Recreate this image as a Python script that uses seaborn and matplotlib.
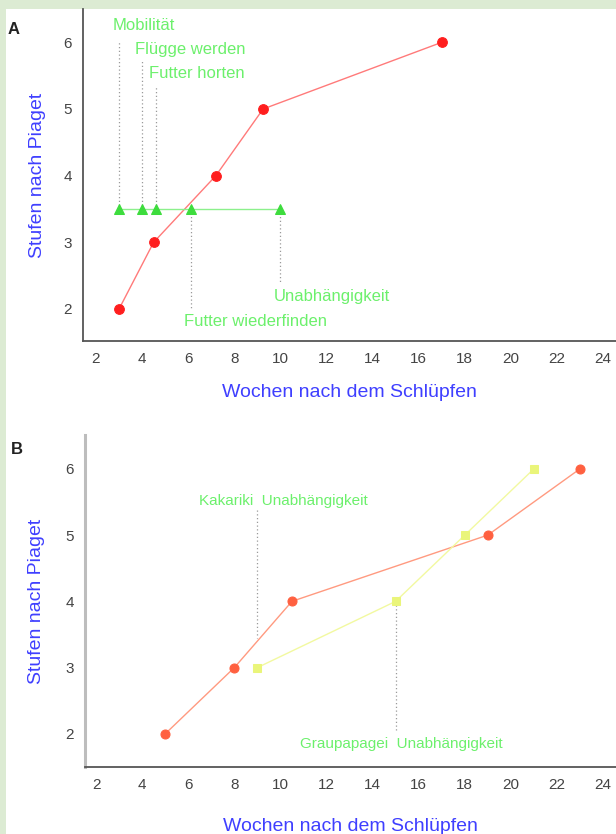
import numpy as np
import pandas as pd
import matplotlib
matplotlib.use("Agg")
import matplotlib.pyplot as plt
import seaborn as sns

# Panel A: Piaget-Stufen (rot) und Entwicklungsereignisse (gruen)
a_weeks = [3, 4.5, 7.2, 9.25, 17]
a_stage = [2, 3, 4, 5, 6]
event_weeks = [3, 4, 4.6, 6.1, 10]
event_labels = ["Mobilität", "Flügge werden", "Futter horten",
                "Futter wiederfinden", "Unabhängigkeit"]
event_level = 3.5

# Panel B: Kakariki (orange) vs. Graupapagei (gelb)
kak_weeks = [5, 8, 10.5, 19, 23]
kak_stage = [2, 3, 4, 5, 6]
grau_weeks = [9, 15, 18, 21]
grau_stage = [3, 4, 5, 6]
indep_weeks = {"Kakariki": 9, "Graupapagei": 15}

xticks = list(range(2, 25, 2))
yticks = [2, 3, 4, 5, 6]

sns.set_style("white")
plt.rcParams["font.family"] = ["Liberation Sans", "DejaVu Sans"]

blue = "#3f3fff"
green_txt = "#6cf06c"
green_mk = "#3ddc3d"
dotted = "#9a9a9a"

fig = plt.figure(figsize=(6.16, 8.34), dpi=100)
fig.patch.set_facecolor("#dcebd3")
fig.add_artist(plt.Rectangle((6 / 616, 0), 1, 1 - 9 / 834, transform=fig.transFigure,
                             facecolor="white", edgecolor="none", zorder=0))

axA = fig.add_axes([83 / 616, 1 - 341 / 834, 1 - 83 / 616, 332 / 834])
axB = fig.add_axes([85 / 616, 1 - 767 / 834, 1 - 85 / 616, 332 / 834])

# --- A ---
dfA = pd.DataFrame({"Woche": a_weeks, "Stufe": a_stage})
sns.lineplot(data=dfA, x="Woche", y="Stufe", ax=axA, color="#ff7a7a", lw=1.0,
             marker="o", markersize=7, markerfacecolor="#ff1e1e",
             markeredgecolor="#ff1e1e", estimator=None)
dfE = pd.DataFrame({"Woche": event_weeks, "Stufe": [event_level] * len(event_weeks)})
sns.lineplot(data=dfE, x="Woche", y="Stufe", ax=axA, color="#8cf08c", lw=1.0,
             marker="^", markersize=6.5, markerfacecolor=green_mk,
             markeredgecolor=green_mk, estimator=None)

text_y = [6.25, 5.89, 5.53, 1.81, 2.18]
line_end = [6.0, 5.72, 5.34, 1.99, 2.39]
for wx, lab, ty, le in zip(event_weeks, event_labels, text_y, line_end):
    axA.plot([wx, wx], [event_level, le], ls=(0, (1, 2)), color=dotted, lw=0.9, zorder=1)
    axA.text(wx - 0.3, ty, lab, color=green_txt, fontsize=12, ha="left", va="center")

# --- B ---
dfK = pd.DataFrame({"Woche": kak_weeks, "Stufe": kak_stage})
dfG = pd.DataFrame({"Woche": grau_weeks, "Stufe": grau_stage})
sns.lineplot(data=dfK, x="Woche", y="Stufe", ax=axB, color="#ff9a80", lw=1.0,
             marker="o", markersize=6.5, markerfacecolor="#ff6040",
             markeredgecolor="#ff6040", estimator=None)
sns.lineplot(data=dfG, x="Woche", y="Stufe", ax=axB, color="#f2f9a0", lw=1.0,
             marker="s", markersize=6, markerfacecolor="#eaf57a",
             markeredgecolor="#eaf57a", estimator=None)

axB.plot([indep_weeks["Kakariki"]] * 2, [5.38, 3.45], ls=(0, (1, 2)), color=dotted, lw=0.9, zorder=1)
axB.plot([indep_weeks["Graupapagei"]] * 2, [3.95, 2.03], ls=(0, (1, 2)), color=dotted, lw=0.9, zorder=1)
axB.text(6.47, 5.52, "Kakariki  Unabhängigkeit", color=green_txt, fontsize=11,
         ha="left", va="center")
axB.text(10.85, 1.85, "Graupapagei  Unabhängigkeit", color=green_txt, fontsize=11,
         ha="left", va="center")

axA.set_xlim(1.436, 24.56)
axA.set_ylim(1.52, 6.5)
axB.set_xlim(1.52, 24.56)
axB.set_ylim(1.5, 6.51)

for ax, ylx, xly in [(axA, -0.0863, -0.154), (axB, -0.0904, -0.178)]:
    ax.set_facecolor("none")
    ax.set_xticks(xticks)
    ax.set_yticks(yticks)
    ax.tick_params(axis="both", direction="out", length=3, width=0.8,
                   colors="#666666", labelcolor="#444444", labelsize=11, pad=5)
    ax.spines["top"].set_visible(False)
    ax.spines["right"].set_visible(False)
    ax.spines["bottom"].set_color("#555555")
    ax.spines["bottom"].set_linewidth(1.3)
    ax.set_xlabel("Wochen nach dem Schlüpfen", color=blue, fontsize=14)
    ax.set_ylabel("Stufen nach Piaget", color=blue, fontsize=14)
    ax.xaxis.label.set_va("center")
    ax.yaxis.label.set_va("center")
    ax.xaxis.set_label_coords(0.5, xly)
    ax.yaxis.set_label_coords(ylx, 0.5)

axA.spines["left"].set_color("#555555")
axA.spines["left"].set_linewidth(1.3)
axB.spines["left"].set_color("#bdbdbd")
axB.spines["left"].set_linewidth(2.2)

fig.text(14 / 616, 1 - 29 / 834, "A", fontsize=12, fontweight="bold",
         color="#222222", ha="center", va="center")
fig.text(17 / 616, 1 - 449 / 834, "B", fontsize=12, fontweight="bold",
         color="#222222", ha="center", va="center")

fig.savefig("out.png", dpi=100, facecolor=fig.get_facecolor())
